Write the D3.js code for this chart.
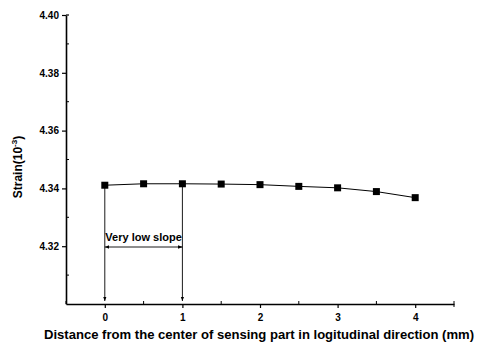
<!DOCTYPE html>
<html><head><meta charset="utf-8">
<script src="https://cdn.jsdelivr.net/npm/d3@7"></script>
<style>body{margin:0;background:#fff}svg{display:block}text{font-family:"Liberation Sans",Arial,sans-serif;fill:#000}</style>
</head><body><svg id="c" width="484" height="353"></svg>
<script>
const xValues = [0, 0.5, 1, 1.5, 2, 2.5, 3, 3.5, 4];
const strain = [4.3411, 4.3416, 4.3416, 4.3415, 4.3413, 4.3407, 4.3402, 4.3389, 4.3368];
const xTicks = [0, 1, 2, 3, 4];
const yTicks = [4.32, 4.34, 4.36, 4.38, 4.40];
const xLabel = "Distance from the center of sensing part in logitudinal direction (mm)";
const annotation = "Very low slope";
const slopeRange = [0, 1];

const svg = d3.select("#c");
const x = d3.scaleLinear().domain([-0.5, 4.5]).range([66, 454]);
const y = d3.scaleLinear().domain([4.30, 4.40]).range([304, 15]);

// axes
const xAxis = svg.append("g").attr("transform", "translate(0,304)")
  .call(d3.axisBottom(x).tickValues(xTicks).tickFormat(d3.format("d")).tickSize(4).tickSizeOuter(0).tickPadding(6));
const yAxis = svg.append("g").attr("transform", "translate(66,0)")
  .call(d3.axisLeft(y).tickValues(yTicks).tickFormat(d3.format(".2f")).tickSize(4).tickSizeOuter(0).tickPadding(3));
[xAxis, yAxis].forEach(a => {
  a.select(".domain").attr("stroke", "#000").attr("stroke-width", 1.6);
  a.selectAll(".tick line").attr("stroke", "#000").attr("stroke-width", 1.2);
  a.selectAll("text").style("font-size", "10px").style("font-weight", "bold");
});
// minor ticks (inward)
svg.append("g").selectAll("line").data(d3.range(-0.5, 4.51, 0.5).filter(v => !xTicks.includes(v)))
  .join("line").attr("x1", d => x(d)).attr("x2", d => x(d)).attr("y1", 304).attr("y2", 301)
  .attr("stroke", "#000").attr("stroke-width", 1);
svg.append("g").selectAll("line").data([4.31, 4.33, 4.35, 4.37, 4.39])
  .join("line").attr("x1", 66).attr("x2", 69).attr("y1", d => y(d)).attr("y2", d => y(d))
  .attr("stroke", "#000").attr("stroke-width", 1);
// top hook
svg.append("line").attr("x1", 66).attr("x2", 69).attr("y1", y(4.40)).attr("y2", y(4.40)).attr("stroke", "#000").attr("stroke-width", 1.2);
// right end tick
svg.append("line").attr("x1", x(4.5)).attr("x2", x(4.5)).attr("y1", 304).attr("y2", 307).attr("stroke", "#000").attr("stroke-width", 1);

// labels
svg.append("text").attr("x", 259).attr("y", 339).attr("text-anchor", "middle")
  .attr("textLength", 430).attr("lengthAdjust", "spacingAndGlyphs")
  .style("font-size", "12px").style("font-weight", "600").text(xLabel);
const yl = svg.append("text").attr("transform", "translate(22,167) rotate(-90)").attr("text-anchor", "middle")
  .style("font-size", "12px").style("font-weight", "600");
yl.append("tspan").text("Strain(10");
yl.append("tspan").attr("dy", -5).style("font-size", "8px").text("-3");
yl.append("tspan").attr("dy", 5).text(")");

// defs arrow
const defs = svg.append("defs");
defs.append("marker").attr("id", "ar").attr("viewBox", "0 0 10 10").attr("refX", 10).attr("refY", 5)
  .attr("markerWidth", 5).attr("markerHeight", 5).attr("orient", "auto-start-reverse")
  .append("path").attr("d", "M0,1L10,5L0,9z").attr("fill", "#000");

// annotation lines
const idx = slopeRange.map(v => xValues.indexOf(v));
svg.append("g").selectAll("line").data(idx).join("line")
  .attr("x1", i => x(xValues[i])).attr("x2", i => x(xValues[i]))
  .attr("y1", i => y(strain[i])).attr("y2", 301)
  .attr("stroke", "#000").attr("stroke-width", 0.9).attr("marker-end", "url(#ar)");
svg.append("line").attr("x1", x(slopeRange[0])).attr("x2", x(slopeRange[1]))
  .attr("y1", 247).attr("y2", 247).attr("stroke", "#000").attr("stroke-width", 0.9)
  .attr("marker-start", "url(#ar)").attr("marker-end", "url(#ar)");
svg.append("text").attr("x", (x(slopeRange[0]) + x(slopeRange[1])) / 2).attr("y", 241)
  .attr("text-anchor", "middle").style("font-size", "11px").style("font-weight", "600")
  .attr("textLength", x(slopeRange[1]) - x(slopeRange[0]) - 1).attr("lengthAdjust", "spacingAndGlyphs")
  .text(annotation);

// line + markers
svg.append("path").datum(xValues.map((v, i) => [v, strain[i]]))
  .attr("d", d3.line().x(d => x(d[0])).y(d => y(d[1])))
  .attr("fill", "none").attr("stroke", "#000").attr("stroke-width", 1);
svg.append("g").selectAll("rect").data(xValues.map((v, i) => [v, strain[i]])).join("rect")
  .attr("x", d => x(d[0]) - 3.5).attr("y", d => y(d[1]) - 3.5).attr("width", 7).attr("height", 7).attr("fill", "#000");
</script></body></html>
